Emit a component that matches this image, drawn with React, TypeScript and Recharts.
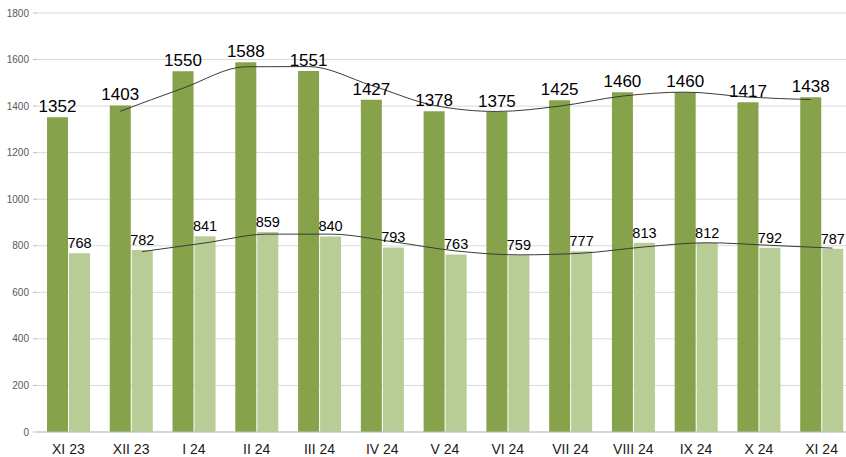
import React from "react";
import {
  ComposedChart,
  Bar,
  Line,
  XAxis,
  YAxis,
  CartesianGrid,
  LabelList,
} from "recharts";

// monthly values
const months = ["XI 23", "XII 23", "I 24", "II 24", "III 24", "IV 24", "V 24", "VI 24", "VII 24", "VIII 24", "IX 24", "X 24", "XI 24"];
const totals = [1352, 1403, 1550, 1588, 1551, 1427, 1378, 1375, 1425, 1460, 1460, 1417, 1438];
const seconds = [768, 782, 841, 859, 840, 793, 763, 759, 777, 813, 812, 792, 787];

// trend lines (start at XII 23)
const totalTrend = [1378, 1477, 1569, 1570, 1489, 1403, 1377, 1400, 1443, 1460, 1439, 1428];
const secondTrend = [775, 812, 850, 850, 817, 778, 761, 768, 795, 813, 802, 790];

const yTicks = [0, 200, 400, 600, 800, 1000, 1200, 1400, 1600, 1800];
const boundaryTicks = [1, 2, 3, 4, 5, 6, 7, 8, 9, 10, 11, 12];

const rows = months.map((m, i) => ({ month: m, total: totals[i], second: seconds[i] }));

// lines sit over the centres of their bars, not the category centre
const totalLine = totalTrend.map((v, i) => ({ pos: i + 1 + 0.327, v }));
const secondLine = secondTrend.map((v, i) => ({ pos: i + 1 + 0.673, v }));

const DARK = "#86a24a";
const LIGHT = "#b8cd96";
const GRID = "#d9d9d9";

export default function App() {
  return (
    <div
      style={{
        position: "absolute",
        left: 0,
        top: 0,
        width: 846,
        height: 457,
        overflow: "hidden",
        background: "#fff",
        fontFamily: "'Liberation Sans', Arial, sans-serif",
      }}
    >
      <ComposedChart
        width={860}
        height={457}
        data={rows}
        margin={{ top: 13, right: 7, left: 0, bottom: 0 }}
        barGap={1}
      >
        <CartesianGrid vertical={false} stroke={GRID} />
        <XAxis
          xAxisId="pos"
          type="number"
          dataKey="pos"
          domain={[0, 13]}
          ticks={boundaryTicks}
          height={0}
          axisLine={false}
          tickSize={5}
          tickLine={{ stroke: "#bfbfbf" }}
          tickFormatter={() => ""}
          allowDataOverflow
        />
        <XAxis
          dataKey="month"
          height={25}
          tickLine={false}
          axisLine={{ stroke: "#bfbfbf" }}
          tickMargin={6}
          tick={{ fontSize: 14, fill: "#1a1a1a" }}
          interval={0}
        />
        <YAxis
          width={37}
          domain={[0, 1800]}
          ticks={yTicks}
          axisLine={false}
          tickSize={4}
          tickMargin={4}
          tickLine={{ stroke: "#bfbfbf" }}
          tick={{ fontSize: 10, fill: "#595959" }}
        />
        <Bar dataKey="total" fill={DARK} barSize={21} isAnimationActive={false}>
          <LabelList dataKey="total" position="top" offset={5} fill="#000" fontSize={17} />
        </Bar>
        <Bar dataKey="second" fill={LIGHT} barSize={21} isAnimationActive={false}>
          <LabelList dataKey="second" position="top" offset={5} fill="#000" fontSize={14.5} />
        </Bar>
        <Line
          xAxisId="pos"
          data={totalLine}
          dataKey="v"
          type="monotone"
          stroke="#3a3a3a"
          strokeWidth={1}
          dot={false}
          isAnimationActive={false}
        />
        <Line
          xAxisId="pos"
          data={secondLine}
          dataKey="v"
          type="monotone"
          stroke="#3a3a3a"
          strokeWidth={1}
          dot={false}
          isAnimationActive={false}
        />
      </ComposedChart>
    </div>
  );
}
